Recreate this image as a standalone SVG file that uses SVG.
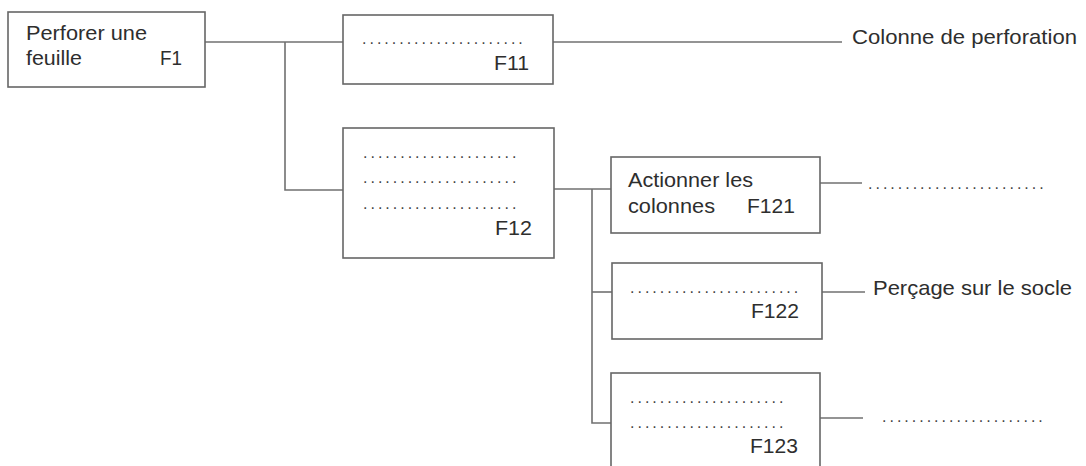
<svg xmlns="http://www.w3.org/2000/svg" width="1086" height="466" viewBox="0 0 1086 466">
<style>
.box{fill:#fff;stroke:#666;stroke-width:1.6}
.ln{fill:none;stroke:#707070;stroke-width:1.6}
.t{font-family:"Liberation Sans",Arial,sans-serif;font-size:21px;fill:#2e2e2e}
.d{font-family:"Liberation Sans",Arial,sans-serif;font-size:16px;letter-spacing:3px;fill:#444}
</style>
<rect width="1086" height="466" fill="#fff"/>
<g id="connectors">
<polyline class="ln" points="205,42 343,42"/>
<polyline class="ln" points="285,42 285,190 343,190"/>
<polyline class="ln" points="553,42 842,42"/>
<polyline class="ln" points="554,189 611,189"/>
<polyline class="ln" points="592,189 592,423 611,423"/>
<polyline class="ln" points="592,292 612,292"/>
<polyline class="ln" points="820,183 862,183"/>
<polyline class="ln" points="822,292 865,292"/>
<polyline class="ln" points="820,418 863,418"/>
</g>
<g id="F1">
<rect class="box" x="8" y="12" width="197" height="75"/>
<text class="t" x="26" y="40" textLength="121" lengthAdjust="spacingAndGlyphs">Perforer une</text>
<text class="t" x="26" y="65" textLength="56" lengthAdjust="spacingAndGlyphs">feuille</text>
<text class="t" x="160" y="65" textLength="22" lengthAdjust="spacingAndGlyphs">F1</text>
</g>
<g id="F11">
<rect class="box" x="343" y="15" width="210" height="69"/>
<text class="d" x="362" y="44">......................</text>
<text class="t" x="494" y="70" textLength="35" lengthAdjust="spacingAndGlyphs">F11</text>
</g>
<g id="label-F11">
<text class="t" x="852" y="44" textLength="225" lengthAdjust="spacingAndGlyphs">Colonne de perforation</text>
</g>
<g id="F12">
<rect class="box" x="343" y="128" width="211" height="130"/>
<text class="d" x="363" y="158">.....................</text>
<text class="d" x="363" y="183">.....................</text>
<text class="d" x="363" y="209">.....................</text>
<text class="t" x="495" y="235" textLength="37" lengthAdjust="spacingAndGlyphs">F12</text>
</g>
<g id="F121">
<rect class="box" x="611" y="157" width="209" height="76"/>
<text class="t" x="628" y="187" textLength="125" lengthAdjust="spacingAndGlyphs">Actionner les</text>
<text class="t" x="628" y="213" textLength="87" lengthAdjust="spacingAndGlyphs">colonnes</text>
<text class="t" x="747" y="213" textLength="48" lengthAdjust="spacingAndGlyphs">F121</text>
</g>
<g id="label-F121">
<text class="d" x="868" y="189">........................</text>
</g>
<g id="F122">
<rect class="box" x="612" y="263" width="210" height="76"/>
<text class="d" x="630" y="293">.......................</text>
<text class="t" x="751" y="318" textLength="48" lengthAdjust="spacingAndGlyphs">F122</text>
</g>
<g id="label-F122">
<text class="t" x="873" y="295" textLength="199" lengthAdjust="spacingAndGlyphs">Perçage sur le socle</text>
</g>
<g id="F123">
<rect class="box" x="611" y="373" width="209" height="120"/>
<text class="d" x="630" y="403">.....................</text>
<text class="d" x="630" y="428">.....................</text>
<text class="t" x="750" y="453" textLength="48" lengthAdjust="spacingAndGlyphs">F123</text>
</g>
<g id="label-F123">
<text class="d" x="882" y="422">......................</text>
</g>
</svg>
